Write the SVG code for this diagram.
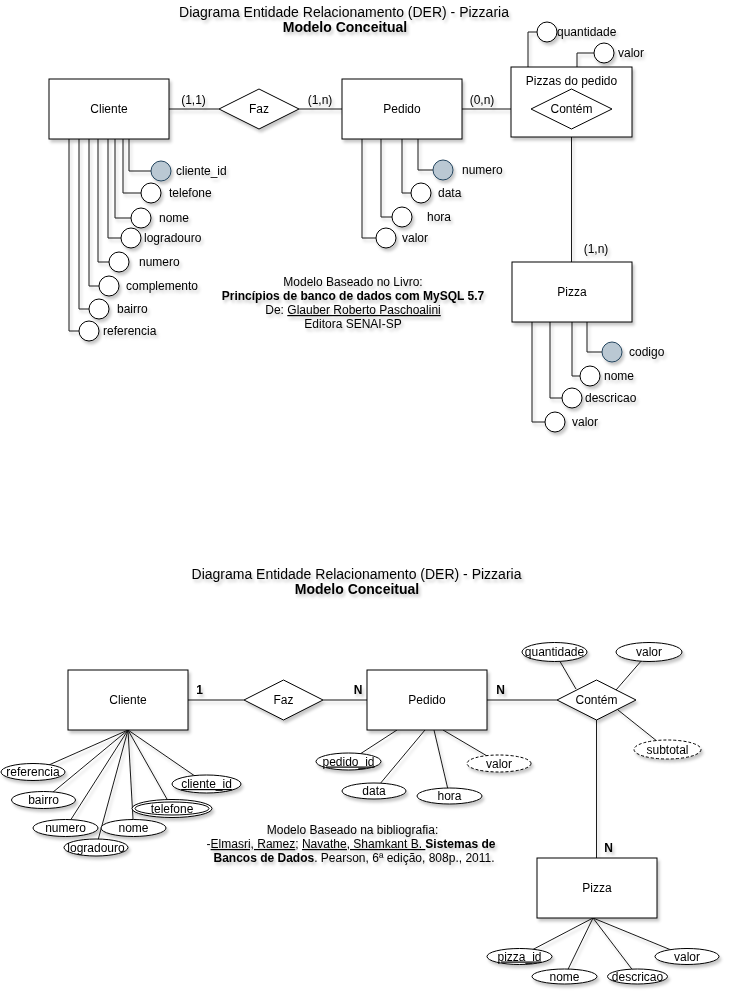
<svg xmlns="http://www.w3.org/2000/svg" width="736" height="998" viewBox="0 0 736 998">
  <defs>
    <filter id="sh" x="-20%" y="-20%" width="150%" height="160%">
      <feDropShadow dx="2" dy="3" stdDeviation="1.4" flood-color="#000" flood-opacity="0.22"/>
    </filter>
    <style>
      text { font-family: "Liberation Sans", Arial, Helvetica, sans-serif; font-size: 12px; fill: #000; }
      .c { text-anchor: middle; }
      .b { font-weight: bold; }
      .t { font-size: 14px; }
      .u { text-decoration: underline; }
      .ent { fill: #fff; stroke: #000; stroke-width: 1; }
      .at { fill: #fff; stroke: #000; stroke-width: 1; }
      .key { fill: #bac8d3; stroke: #23445d; stroke-width: 1; }
      .dash { stroke-dasharray: 3 2; }
      .ln { fill: none; stroke: #1a1a1a; stroke-width: 1; }
      g { filter: url(#sh); }
    </style>
  </defs>
  <rect width="736" height="998" fill="#fff"/>

  <!-- ================= Upper model (book notation) ================= -->
  <g id="title-top">
    <text class="c t" x="344" y="17">Diagrama Entidade Relacionamento (DER) - Pizzaria</text>
    <text class="c t b" x="345" y="32">Modelo Conceitual</text>
  </g>

  <g id="connectors-top">
    <path class="ln" d="M169 109 H219"/>
    <path class="ln" d="M299 109 H342"/>
    <path class="ln" d="M462 109 H531"/>
    <path class="ln" d="M571.5 129 V262"/>
    <!-- Cliente attributes -->
    <path class="ln" d="M129 139 V171 H151"/>
    <path class="ln" d="M123 139 V193 H141"/>
    <path class="ln" d="M115 139 V218 H131"/>
    <path class="ln" d="M108 139 V238 H121"/>
    <path class="ln" d="M98 139 V262 H109"/>
    <path class="ln" d="M89 139 V286 H99"/>
    <path class="ln" d="M79 139 V309 H89"/>
    <path class="ln" d="M69 139 V331 H79"/>
    <!-- Pedido attributes -->
    <path class="ln" d="M418 139 V170 H433"/>
    <path class="ln" d="M402 139 V193 H411"/>
    <path class="ln" d="M381 139 V217 H392"/>
    <path class="ln" d="M362 139 V238 H376"/>
    <!-- Pizzas do pedido attributes -->
    <path class="ln" d="M528 67 V32 H537"/>
    <path class="ln" d="M577 67 V53 H594"/>
    <!-- Pizza attributes -->
    <path class="ln" d="M587 322 V352 H602"/>
    <path class="ln" d="M572 322 V376 H580"/>
    <path class="ln" d="M550 322 V398 H562"/>
    <path class="ln" d="M532 322 V422 H545"/>
  </g>

  <g id="card-top">
    <text class="c" x="193.5" y="104">(1,1)</text>
    <text class="c" x="320" y="104">(1,n)</text>
    <text class="c" x="482" y="104">(0,n)</text>
    <text class="c" x="596" y="253">(1,n)</text>
  </g>

  <g id="cliente-top">
    <rect class="ent" x="49" y="79" width="120" height="60"/>
    <text class="c" x="109" y="113">Cliente</text>
  </g>
  <g id="faz-top">
    <polygon class="ent" points="219,109 259,89 299,109 259,129"/>
    <text class="c" x="259" y="113">Faz</text>
  </g>
  <g id="pedido-top">
    <rect class="ent" x="342" y="79" width="120" height="60"/>
    <text class="c" x="402" y="113">Pedido</text>
  </g>
  <g id="pizzas-do-pedido-top">
    <rect class="ent" x="511" y="67" width="121" height="70"/>
    <text class="c" x="571.5" y="85">Pizzas do pedido</text>
    <polygon class="ent" points="531,109 571.5,89 612,109 571.5,129"/>
    <text class="c" x="571.5" y="113">Contém</text>
  </g>
  <g id="pizza-top">
    <rect class="ent" x="512" y="262" width="120" height="60"/>
    <text class="c" x="572" y="296">Pizza</text>
  </g>

  <g id="cliente-attrs-top">
    <circle class="key" cx="161" cy="171" r="10"/><text x="176" y="175">cliente_id</text>
    <circle class="at" cx="151" cy="193" r="10"/><text x="169" y="197">telefone</text>
    <circle class="at" cx="141" cy="218" r="10"/><text x="159" y="222">nome</text>
    <circle class="at" cx="131" cy="238" r="10"/><text x="144" y="242">logradouro</text>
    <circle class="at" cx="119" cy="262" r="10"/><text x="139" y="266">numero</text>
    <circle class="at" cx="109" cy="286" r="10"/><text x="126" y="290">complemento</text>
    <circle class="at" cx="99" cy="309" r="10"/><text x="117" y="313">bairro</text>
    <circle class="at" cx="89" cy="331" r="10"/><text x="103" y="335">referencia</text>
  </g>
  <g id="pedido-attrs-top">
    <circle class="key" cx="443" cy="170" r="10"/><text x="462" y="174">numero</text>
    <circle class="at" cx="421" cy="193" r="10"/><text x="438" y="197">data</text>
    <circle class="at" cx="402" cy="217" r="10"/><text x="427" y="221">hora</text>
    <circle class="at" cx="386" cy="238" r="10"/><text x="402" y="242">valor</text>
  </g>
  <g id="pizzas-do-pedido-attrs-top">
    <circle class="at" cx="547" cy="32" r="10"/><text x="557" y="36">quantidade</text>
    <circle class="at" cx="604" cy="53" r="10"/><text x="618" y="57">valor</text>
  </g>
  <g id="pizza-attrs-top">
    <circle class="key" cx="612" cy="352" r="10"/><text x="629" y="356">codigo</text>
    <circle class="at" cx="590" cy="376" r="10"/><text x="604" y="380">nome</text>
    <circle class="at" cx="572" cy="398" r="10"/><text x="585" y="402">descricao</text>
    <circle class="at" cx="555" cy="422" r="10"/><text x="572" y="426">valor</text>
  </g>

  <g id="ref-top">
    <text class="c" x="353" y="286">Modelo Baseado no Livro:</text>
    <text class="c b" x="353" y="300">Princípios de banco de dados com MySQL 5.7</text>
    <text class="c" x="353" y="314">De: <tspan class="u">Glauber Roberto Paschoalini</tspan></text>
    <text class="c" x="353" y="328">Editora SENAI-SP</text>
  </g>

  <!-- ================= Lower model (Elmasri/Navathe notation) ================= -->
  <g id="title-bottom">
    <text class="c t" x="356.5" y="579">Diagrama Entidade Relacionamento (DER) - Pizzaria</text>
    <text class="c t b" x="357" y="594">Modelo Conceitual</text>
  </g>

  <g id="connectors-bottom">
    <path class="ln" d="M188 700 H244"/>
    <path class="ln" d="M323 700 H367"/>
    <path class="ln" d="M487 700 H557"/>
    <path class="ln" d="M596.5 720 V858"/>
    <!-- Cliente attributes -->
    <path class="ln" d="M128 730 L33 772"/>
    <path class="ln" d="M128 730 L43.5 800"/>
    <path class="ln" d="M128 730 L65.5 828"/>
    <path class="ln" d="M128 730 L96 847.5"/>
    <path class="ln" d="M128 730 L133.5 828"/>
    <path class="ln" d="M128 730 L172 808"/>
    <path class="ln" d="M128 730 L206.5 784"/>
    <!-- Pedido attributes -->
    <path class="ln" d="M397 730 L348.5 761.5"/>
    <path class="ln" d="M425 730 L374 791"/>
    <path class="ln" d="M434 730 L449.5 796"/>
    <path class="ln" d="M443 730 L499 763"/>
    <!-- Contém attributes -->
    <path class="ln" d="M576 689 L554.5 652"/>
    <path class="ln" d="M616 690 L649 652"/>
    <path class="ln" d="M618 710 L667.5 749.5"/>
    <!-- Pizza attributes -->
    <path class="ln" d="M593 918 L519.5 956.5"/>
    <path class="ln" d="M593 918 L564.5 976.5"/>
    <path class="ln" d="M593 918 L637.5 976.5"/>
    <path class="ln" d="M593 918 L687 956.5"/>
  </g>

  <g id="card-bottom">
    <text class="c b" x="199.5" y="694">1</text>
    <text class="c b" x="358" y="694">N</text>
    <text class="c b" x="500.5" y="694">N</text>
    <text class="c b" x="608.5" y="852">N</text>
  </g>

  <g id="cliente-bottom">
    <rect class="ent" x="68" y="670" width="120" height="60"/>
    <text class="c" x="128" y="704">Cliente</text>
  </g>
  <g id="faz-bottom">
    <polygon class="ent" points="244,700 283.5,680 323,700 283.5,720"/>
    <text class="c" x="283.5" y="704">Faz</text>
  </g>
  <g id="pedido-bottom">
    <rect class="ent" x="367" y="670" width="120" height="60"/>
    <text class="c" x="427" y="704">Pedido</text>
  </g>
  <g id="contem-bottom">
    <polygon class="ent" points="557,700 596.5,680 636,700 596.5,720"/>
    <text class="c" x="596.5" y="704">Contém</text>
  </g>
  <g id="pizza-bottom">
    <rect class="ent" x="537" y="858" width="120" height="60"/>
    <text class="c" x="597" y="892">Pizza</text>
  </g>

  <g id="cliente-attrs-bottom">
    <ellipse class="at" cx="33" cy="772" rx="32" ry="8.5"/><text class="c" x="33" y="776">referencia</text>
    <ellipse class="at" cx="43.5" cy="800" rx="32" ry="8.5"/><text class="c" x="43.5" y="804">bairro</text>
    <ellipse class="at" cx="65.5" cy="828" rx="32.5" ry="8.5"/><text class="c" x="65.5" y="832">numero</text>
    <ellipse class="at" cx="96" cy="847.5" rx="32" ry="8.5"/><text class="c" x="96" y="851.5">logradouro</text>
    <ellipse class="at" cx="133.5" cy="828" rx="32.5" ry="8.5"/><text class="c" x="133.5" y="832">nome</text>
    <ellipse class="at" cx="172" cy="808.5" rx="40" ry="9"/>
    <ellipse class="at" cx="172" cy="808.5" rx="37" ry="6.5"/><text class="c" x="172" y="812.5">telefone</text>
    <ellipse class="at" cx="206.5" cy="784" rx="34.5" ry="9"/><text class="c u" x="206.5" y="788">cliente_id</text>
  </g>
  <g id="pedido-attrs-bottom">
    <ellipse class="at" cx="348.5" cy="761.5" rx="32.5" ry="8.5"/><text class="c u" x="348.5" y="765.5">pedido_id</text>
    <ellipse class="at" cx="374" cy="791" rx="32" ry="8"/><text class="c" x="374" y="795">data</text>
    <ellipse class="at" cx="449.5" cy="796" rx="32.5" ry="8"/><text class="c" x="449.5" y="800">hora</text>
    <ellipse class="at dash" cx="499" cy="763.5" rx="32" ry="8.5"/><text class="c" x="499" y="767.5">valor</text>
  </g>
  <g id="contem-attrs-bottom">
    <ellipse class="at" cx="554.5" cy="652" rx="32.5" ry="9.5"/><text class="c" x="554.5" y="656">quantidade</text>
    <ellipse class="at" cx="649" cy="652" rx="33" ry="9.5"/><text class="c" x="649" y="656">valor</text>
    <ellipse class="at dash" cx="667.5" cy="749.5" rx="33.5" ry="9.5"/><text class="c" x="667.5" y="753.5">subtotal</text>
  </g>
  <g id="pizza-attrs-bottom">
    <ellipse class="at" cx="519.5" cy="956.5" rx="32.5" ry="8"/><text class="c u" x="519.5" y="960.5">pizza_id</text>
    <ellipse class="at" cx="564.5" cy="976.5" rx="32.5" ry="7.5"/><text class="c" x="564.5" y="980.5">nome</text>
    <ellipse class="at" cx="637.5" cy="976.5" rx="30" ry="7.5"/><text class="c" x="637.5" y="980.5">descricao</text>
    <ellipse class="at" cx="687" cy="956.5" rx="32" ry="8"/><text class="c" x="687" y="960.5">valor</text>
  </g>

  <g id="ref-bottom">
    <text class="c" x="352.5" y="834">Modelo Baseado na bibliografia:</text>
    <text class="c" x="351" y="848">-<tspan class="u">Elmasri, Ramez</tspan>; <tspan class="u">Navathe, Shamkant B. </tspan><tspan class="b">Sistemas de</tspan></text>
    <text class="c" x="354" y="862"><tspan class="b">Bancos de Dados</tspan>. Pearson, 6ª edição, 808p., 2011.</text>
  </g>
</svg>
